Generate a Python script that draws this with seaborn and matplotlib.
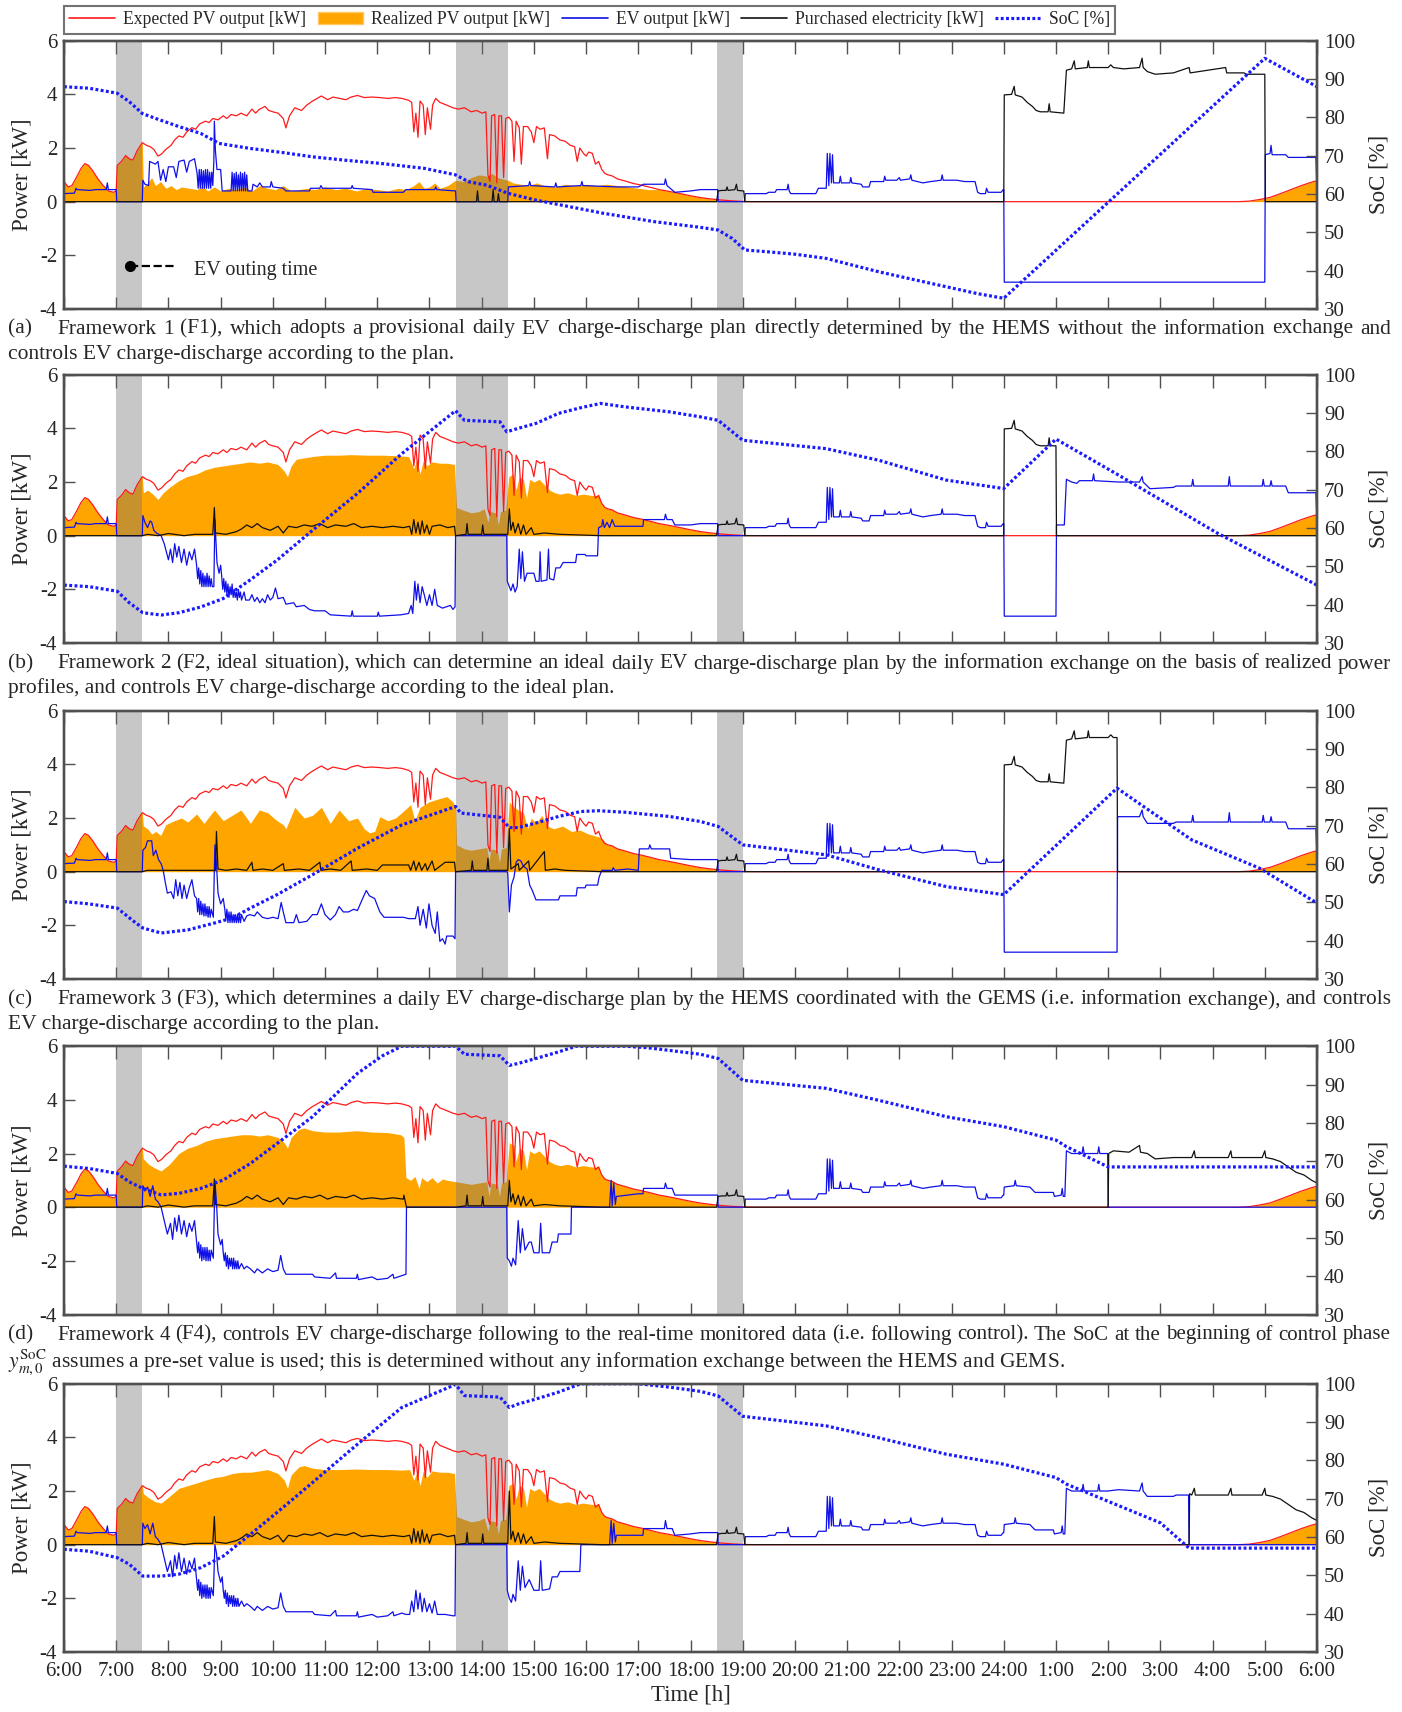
import matplotlib
matplotlib.use("Agg")
import matplotlib.pyplot as plt
from matplotlib.lines import Line2D
from matplotlib.patches import Patch
import seaborn as sns

sns.set_theme(style="ticks")
plt.rcParams["font.family"] = ["Liberation Serif", "DejaVu Serif"]
plt.rcParams["mathtext.fontset"] = "stix"

# ---------------- data (time in hours after 6:00) ----------------
hour_labels = ["6:00", "7:00", "8:00", "9:00", "10:00", "11:00", "12:00", "13:00", "14:00",
               "15:00", "16:00", "17:00", "18:00", "19:00", "20:00", "21:00", "22:00", "23:00",
               "24:00", "1:00", "2:00", "3:00", "4:00", "5:00", "6:00"]
outing_windows = [(1.0, 1.5), (7.5, 8.5), (12.5, 13.0)]

# PV: morning part (shared by expected and realized)
pv_morning = [(0.00, 0.75), (0.08, 0.55), (0.15, 0.6), (0.25, 0.95), (0.33, 1.25), (0.40, 1.42),
              (0.47, 1.35), (0.55, 1.15), (0.65, 0.85), (0.75, 0.6), (0.85, 0.4), (0.95, 0.35),
              (1.00, 0.4), (1.02, 1.35), (1.10, 1.5), (1.18, 1.72), (1.25, 1.6), (1.32, 1.55),
              (1.40, 1.9), (1.50, 2.2)]
# PV: evening / night part (shared)
pv_evening = [(11.4, 0.45), (11.6, 0.38), (11.8, 0.3), (12.0, 0.22), (12.2, 0.15), (12.4, 0.1),
              (12.6, 0.06), (12.8, 0.03), (13.0, 0.01), (13.2, 0.0), (22.5, 0.0), (22.7, 0.02),
              (22.9, 0.08), (23.1, 0.16), (23.3, 0.3), (23.5, 0.45), (23.7, 0.6), (23.9, 0.73),
              (24.0, 0.78)]
# Expected PV, daytime
pv_expected_day = [(1.58, 2.1), (1.65, 2.05), (1.72, 1.95), (1.80, 1.7), (1.87, 1.78), (1.95, 1.95),
                   (2.05, 2.1), (2.12, 2.3), (2.20, 2.45), (2.28, 2.4), (2.35, 2.6), (2.45, 2.76),
                   (2.52, 2.7), (2.60, 2.9), (2.71, 3.0), (2.78, 2.95), (2.85, 3.1), (2.95, 3.05),
                   (3.05, 3.2), (3.12, 3.1), (3.20, 3.25), (3.30, 3.2), (3.39, 3.3), (3.50, 3.2),
                   (3.60, 3.45), (3.67, 3.3), (3.74, 3.44), (3.85, 3.55), (3.92, 3.4), (4.00, 3.35),
                   (4.10, 3.3), (4.20, 3.1), (4.25, 2.75), (4.32, 3.2), (4.42, 3.5), (4.55, 3.4),
                   (4.65, 3.6), (4.76, 3.75), (4.85, 3.85), (4.93, 3.94), (5.05, 3.8), (5.15, 3.9),
                   (5.27, 3.85), (5.40, 3.8), (5.50, 3.9), (5.62, 3.96), (5.75, 3.88), (5.90, 3.9),
                   (6.05, 3.88), (6.20, 3.85), (6.35, 3.88), (6.47, 3.85), (6.60, 3.78),
                   (6.66, 3.7), (6.70, 2.6), (6.74, 3.3), (6.78, 2.4), (6.82, 3.75), (6.88, 3.6),
                   (6.92, 2.5), (6.96, 3.5), (7.02, 2.7), (7.06, 3.6), (7.12, 3.85), (7.20, 3.7),
                   (7.33, 3.6), (7.45, 3.5), (7.55, 3.45), (7.67, 3.5), (7.80, 3.35), (7.90, 3.4),
                   (8.01, 3.3), (8.08, 3.35), (8.12, 1.0), (8.16, 0.75), (8.19, 3.2), (8.25, 3.25),
                   (8.29, 0.7), (8.33, 3.2), (8.38, 3.2), (8.42, 0.9), (8.46, 3.1), (8.52, 3.15),
                   (8.58, 3.0), (8.62, 1.5), (8.66, 3.0), (8.72, 2.75), (8.76, 1.4), (8.80, 2.8),
                   (8.88, 2.8), (8.95, 2.6), (9.00, 2.2), (9.05, 2.8), (9.12, 2.7), (9.20, 2.75),
                   (9.26, 1.6), (9.30, 2.5), (9.40, 2.45), (9.50, 2.3), (9.60, 2.25), (9.70, 2.1),
                   (9.78, 2.05), (9.83, 1.5), (9.88, 2.0), (9.95, 1.8), (10.00, 1.7), (10.05, 1.85),
                   (10.12, 1.8), (10.18, 1.4), (10.24, 1.5), (10.30, 1.2), (10.36, 1.05),
                   (10.42, 1.0), (10.50, 0.96), (10.60, 0.85), (10.75, 0.77), (10.90, 0.68),
                   (11.05, 0.62), (11.20, 0.55)]

# Realized PV, daytime, per framework
pv_real_a = [(1.52, 0.55), (1.60, 0.7), (1.68, 0.9), (1.75, 0.6), (1.85, 0.75), (1.95, 0.5),
             (2.05, 0.6), (2.15, 0.45), (2.25, 0.55), (2.40, 0.5), (2.55, 0.45), (2.65, 0.6),
             (2.75, 0.4), (2.88, 0.55), (3.00, 0.4), (3.15, 0.5), (3.30, 0.45), (3.45, 0.55),
             (3.60, 0.4), (3.75, 0.6), (3.90, 0.5), (4.05, 0.45), (4.20, 0.6), (4.35, 0.4),
             (4.50, 0.45), (4.65, 0.5), (4.80, 0.45), (5.00, 0.55), (5.20, 0.45), (5.40, 0.5),
             (5.60, 0.4), (5.80, 0.5), (6.00, 0.45), (6.20, 0.4), (6.40, 0.5), (6.55, 0.45),
             (6.70, 0.6), (6.80, 0.75), (6.90, 0.5), (7.00, 0.55), (7.10, 0.7), (7.20, 0.5),
             (7.35, 0.6), (7.50, 0.8), (7.65, 0.75), (7.80, 0.9), (7.95, 1.0), (8.10, 0.95),
             (8.20, 1.05), (8.30, 0.9), (8.40, 0.85), (8.50, 0.8), (8.60, 0.7), (8.75, 0.65),
             (8.90, 0.6), (9.05, 0.7), (9.20, 0.6), (9.40, 0.55), (9.60, 0.65), (9.80, 0.6),
             (10.00, 0.65), (10.20, 0.6), (10.40, 0.65), (10.60, 0.6), (10.80, 0.55),
             (11.00, 0.5), (11.20, 0.45)]
pv_real_b = [(1.52, 1.6), (1.60, 1.7), (1.70, 1.55), (1.80, 1.35), (1.90, 1.6), (2.02, 1.8),
             (2.20, 2.05), (2.35, 2.2), (2.54, 2.3), (2.70, 2.45), (2.88, 2.55), (3.05, 2.6),
             (3.22, 2.65), (3.40, 2.7), (3.56, 2.75), (3.75, 2.7), (3.90, 2.75), (4.10, 2.65),
             (4.22, 2.4), (4.28, 2.2), (4.35, 2.6), (4.45, 2.85), (4.60, 2.9), (4.76, 2.95),
             (5.00, 3.0), (5.27, 3.0), (5.50, 3.02), (5.80, 3.0), (6.10, 3.0), (6.40, 2.98),
             (6.60, 2.95), (6.70, 2.5), (6.76, 2.85), (6.82, 2.3), (6.88, 2.8), (6.95, 2.6),
             (7.05, 2.75), (7.20, 2.7), (7.35, 2.7), (7.48, 2.65), (7.52, 1.05), (7.65, 0.95),
             (7.80, 0.85), (7.95, 0.9), (8.05, 1.0), (8.12, 0.5), (8.16, 0.9), (8.28, 0.85),
             (8.32, 0.4), (8.36, 0.9), (8.46, 0.95), (8.52, 2.2), (8.60, 2.3), (8.66, 1.7),
             (8.72, 2.2), (8.80, 2.1), (8.86, 1.4), (8.92, 2.1), (9.00, 2.0), (9.10, 2.1),
             (9.20, 1.9), (9.30, 1.7), (9.40, 1.6), (9.50, 1.55), (9.65, 1.6), (9.80, 1.5),
             (9.95, 1.55), (10.10, 1.5), (10.24, 1.5), (10.30, 1.2), (10.36, 1.05), (10.42, 1.0),
             (10.50, 0.96), (10.60, 0.85), (10.75, 0.77), (10.90, 0.68), (11.05, 0.62),
             (11.20, 0.55)]
pv_real_c = [(1.52, 1.7), (1.60, 1.6), (1.68, 1.4), (1.76, 1.5), (1.85, 1.35), (1.95, 1.75),
             (2.11, 1.9), (2.25, 2.0), (2.37, 1.85), (2.54, 2.15), (2.68, 1.8), (2.88, 2.3),
             (3.05, 1.9), (3.22, 2.1), (3.39, 2.3), (3.50, 2.0), (3.57, 1.8), (3.74, 2.3),
             (3.90, 2.2), (4.08, 1.9), (4.20, 1.75), (4.25, 1.6), (4.42, 2.4), (4.60, 2.0),
             (4.76, 2.1), (4.93, 2.4), (5.10, 1.8), (5.27, 2.3), (5.45, 1.9), (5.62, 2.0),
             (5.75, 1.6), (5.85, 1.45), (5.95, 1.5), (6.05, 2.05), (6.20, 1.9), (6.35, 2.0),
             (6.47, 2.2), (6.64, 2.5), (6.72, 1.9), (6.82, 2.4), (6.99, 2.6), (7.15, 2.7),
             (7.33, 2.8), (7.45, 2.6), (7.50, 2.4), (7.52, 1.0), (7.67, 0.85), (7.80, 0.8),
             (7.95, 0.85), (8.10, 0.9), (8.14, 0.4), (8.18, 0.85), (8.30, 0.8), (8.34, 0.35),
             (8.38, 0.85), (8.47, 0.9), (8.53, 2.6), (8.62, 2.4), (8.70, 2.3), (8.80, 2.2),
             (8.88, 1.6), (8.95, 2.0), (9.04, 1.8), (9.15, 2.1), (9.26, 1.7), (9.38, 1.6),
             (9.55, 1.7), (9.72, 1.5), (9.88, 1.55), (10.05, 1.4), (10.24, 1.3), (10.32, 1.2),
             (10.40, 1.0), (10.50, 0.96), (10.60, 0.85), (10.75, 0.77), (10.90, 0.68),
             (11.05, 0.62), (11.20, 0.55)]
pv_real_d = [(1.52, 1.8), (1.62, 1.6), (1.75, 1.45), (1.86, 1.35), (2.02, 1.6), (2.20, 2.0),
             (2.37, 2.2), (2.54, 2.3), (2.70, 2.45), (2.88, 2.55), (3.05, 2.6), (3.22, 2.65),
             (3.40, 2.7), (3.57, 2.7), (3.75, 2.65), (3.90, 2.7), (4.10, 2.6), (4.22, 2.4),
             (4.28, 2.2), (4.35, 2.6), (4.50, 2.9), (4.60, 2.95), (4.76, 2.85), (5.00, 2.8),
             (5.27, 2.8), (5.60, 2.85), (5.90, 2.8), (6.20, 2.78), (6.45, 2.7), (6.51, 2.6),
             (6.55, 1.1), (6.64, 1.0), (6.72, 1.15), (6.80, 0.7), (6.85, 1.1), (6.95, 0.95),
             (7.05, 1.1), (7.15, 0.9), (7.25, 1.05), (7.35, 1.0), (7.50, 0.95), (7.65, 0.9),
             (7.80, 0.85), (7.95, 0.9), (8.10, 0.95), (8.14, 0.4), (8.18, 0.9), (8.30, 0.85),
             (8.34, 0.4), (8.38, 0.9), (8.47, 0.95), (8.53, 2.4), (8.62, 2.3), (8.66, 1.7),
             (8.72, 2.2), (8.80, 2.1), (8.86, 1.4), (8.92, 2.1), (9.00, 2.0), (9.10, 2.1),
             (9.20, 1.9), (9.30, 1.7), (9.40, 1.6), (9.50, 1.55), (9.65, 1.6), (9.80, 1.5),
             (9.95, 1.55), (10.10, 1.5), (10.24, 1.5), (10.30, 1.2), (10.36, 1.05), (10.42, 1.0),
             (10.50, 0.96), (10.60, 0.85), (10.75, 0.77), (10.90, 0.68), (11.05, 0.62),
             (11.20, 0.55)]
pv_real_e = [(1.52, 1.9), (1.62, 1.75), (1.75, 1.6), (1.86, 1.55), (2.02, 1.8), (2.20, 2.1),
             (2.37, 2.2), (2.54, 2.3), (2.70, 2.4), (2.88, 2.5), (3.05, 2.55), (3.22, 2.65),
             (3.40, 2.7), (3.57, 2.7), (3.75, 2.75), (3.90, 2.8), (4.10, 2.65), (4.22, 2.4),
             (4.28, 2.1), (4.35, 2.6), (4.50, 2.9), (4.60, 2.95), (4.76, 2.85), (5.00, 2.8),
             (5.27, 2.8), (5.60, 2.82), (5.90, 2.8), (6.20, 2.8), (6.45, 2.78), (6.62, 2.8),
             (6.70, 2.4), (6.76, 2.7), (6.82, 2.2), (6.88, 2.75), (6.95, 2.5), (7.05, 2.75),
             (7.20, 2.7), (7.35, 2.7), (7.48, 2.65), (7.52, 1.05), (7.65, 0.95), (7.80, 0.85),
             (7.95, 0.9), (8.05, 1.0), (8.12, 0.5), (8.16, 0.9), (8.28, 0.85), (8.32, 0.4),
             (8.36, 0.9), (8.46, 0.95), (8.52, 2.2), (8.60, 2.3), (8.66, 1.7), (8.72, 2.2),
             (8.80, 2.1), (8.86, 1.4), (8.92, 2.1), (9.00, 2.0), (9.10, 2.1), (9.20, 1.9),
             (9.30, 1.7), (9.40, 1.6), (9.50, 1.55), (9.65, 1.6), (9.80, 1.5), (9.95, 1.55),
             (10.10, 1.5), (10.24, 1.5), (10.30, 1.2), (10.36, 1.05), (10.42, 1.0), (10.50, 0.96),
             (10.60, 0.85), (10.75, 0.77), (10.90, 0.68), (11.05, 0.62), (11.20, 0.55)]

# EV output: shared morning and afternoon parts
ev_morning = [(0.0, 0.3), (0.2, 0.32), (0.23, 0.5), (0.25, 0.45), (0.5, 0.42), (0.6, 0.45),
              (0.81, 0.45), (0.83, 0.7), (0.85, 0.45), (1.0, 0.45), (1.01, 0.0), (1.5, 0.0)]
ev_afternoon = [(12.19, 0.45), (12.52, 0.45), (12.53, 0.0), (13.04, 0.0), (13.05, 0.3),
                (13.45, 0.3), (13.5, 0.35), (13.62, 0.35), (13.65, 0.45), (13.85, 0.45),
                (13.87, 0.65), (13.89, 0.4), (13.92, 0.3), (14.4, 0.3), (14.45, 0.5), (14.6, 0.5),
                (14.62, 1.8), (14.65, 0.6), (14.67, 1.8), (14.7, 0.7), (14.72, 1.75), (14.74, 0.7),
                (14.85, 0.7), (14.87, 0.95), (14.89, 0.7), (15.05, 0.7), (15.07, 0.9),
                (15.09, 0.7), (15.27, 0.65), (15.3, 0.55), (15.42, 0.55), (15.45, 0.75),
                (15.7, 0.75), (15.72, 0.95), (15.74, 0.8), (15.95, 0.8), (16.0, 0.9), (16.02, 0.8),
                (16.2, 0.85), (16.22, 1.0), (16.24, 0.8), (16.45, 0.7), (16.6, 0.75), (16.8, 0.8),
                (16.82, 1.0), (16.84, 0.8), (17.1, 0.8), (17.25, 0.75), (17.45, 0.75),
                (17.5, 0.35), (17.55, 0.3), (17.65, 0.3), (17.67, 0.5), (17.7, 0.35),
                (17.95, 0.35), (17.99, 0.45)]
ev_day_a = [(1.51, 0.8), (1.55, 0.65), (1.62, 0.6), (1.64, 1.5), (1.75, 1.4), (1.8, 1.5),
            (1.85, 0.8), (1.9, 1.2), (1.95, 0.75), (2.0, 1.3), (2.1, 1.3), (2.15, 0.9), (2.2, 1.5),
            (2.3, 1.55), (2.35, 1.1), (2.4, 1.5), (2.5, 1.6), (2.55, 1.05), (2.57, 0.5),
            (2.59, 1.2), (2.61, 0.5), (2.63, 1.2), (2.65, 0.5), (2.67, 1.15), (2.69, 0.5),
            (2.71, 1.2), (2.73, 0.5), (2.75, 1.2), (2.77, 0.5), (2.79, 1.1), (2.81, 0.5),
            (2.83, 1.1), (2.85, 0.6), (2.87, 1.5), (2.88, 3.0), (2.9, 1.9), (2.93, 1.2),
            (3.0, 1.2), (3.03, 0.4), (3.2, 0.4), (3.22, 1.1), (3.24, 0.4), (3.26, 1.05),
            (3.28, 0.4), (3.3, 1.1), (3.32, 0.4), (3.34, 1.0), (3.36, 0.4), (3.38, 1.1),
            (3.4, 0.4), (3.42, 1.05), (3.44, 0.4), (3.46, 1.1), (3.48, 0.4), (3.5, 1.0),
            (3.52, 0.4), (3.6, 0.4), (3.62, 0.65), (3.7, 0.55), (3.75, 0.7), (3.8, 0.55),
            (3.95, 0.55), (3.97, 0.75), (4.0, 0.55), (4.2, 0.5), (4.25, 0.4), (4.7, 0.4),
            (4.72, 0.5), (4.9, 0.5), (4.92, 0.6), (4.95, 0.5), (5.5, 0.5), (5.52, 0.6),
            (5.54, 0.5), (5.9, 0.45), (5.92, 0.35), (6.5, 0.35), (6.55, 0.45), (7.1, 0.45),
            (7.12, 0.55), (7.14, 0.45), (7.5, 0.4), (7.51, 0.0), (8.5, 0.0), (8.51, 0.55),
            (8.9, 0.6), (8.92, 0.75), (8.94, 0.6), (9.4, 0.55), (9.42, 0.7), (9.44, 0.55),
            (9.9, 0.6), (9.92, 0.75), (9.94, 0.6), (10.6, 0.55), (11.0, 0.55), (11.1, 0.65),
            (11.5, 0.65), (11.52, 0.85), (11.55, 0.6), (11.7, 0.35), (12.0, 0.4)]
ev_day_b = [(1.51, 0.75), (1.55, 0.5), (1.6, 0.3), (1.65, 0.55), (1.68, 0.5), (1.72, 0.2),
            (1.77, 0.1), (1.86, 0.0), (1.92, -0.3), (1.96, -0.6), (2.0, -0.9), (2.04, -0.5),
            (2.08, -1.0), (2.12, -0.3), (2.16, -0.8), (2.2, -0.4), (2.25, -1.0), (2.3, -0.5),
            (2.35, -1.1), (2.4, -0.6), (2.45, -0.9), (2.5, -0.5), (2.54, -1.1), (2.56, -1.6),
            (2.58, -1.2), (2.6, -1.8), (2.62, -1.3), (2.64, -1.9), (2.66, -1.4), (2.68, -1.9),
            (2.7, -1.5), (2.72, -1.9), (2.74, -1.4), (2.76, -1.9), (2.78, -1.5), (2.8, -1.9),
            (2.82, -1.6), (2.84, -1.9), (2.87, -1.9), (2.89, 0.6), (2.91, -0.2),
            (2.93, -1.0), (2.97, -1.4), (3.0, -1.1), (3.02, -1.5), (3.04, -2.0), (3.06, -1.6),
            (3.08, -2.1), (3.1, -1.7), (3.12, -2.2), (3.14, -1.8), (3.16, -2.3), (3.18, -1.9),
            (3.2, -2.2), (3.22, -1.8), (3.24, -2.3), (3.26, -2.0), (3.28, -2.3), (3.3, -2.1),
            (3.32, -2.4), (3.34, -2.0), (3.36, -2.3), (3.38, -2.1), (3.4, -2.4), (3.45, -2.1),
            (3.48, -2.4), (3.55, -2.4), (3.6, -2.2), (3.65, -2.45), (3.7, -2.3), (3.75, -2.5),
            (3.8, -2.35), (3.85, -2.5), (3.9, -2.2), (3.95, -2.4), (4.0, -2.3), (4.05, -1.95),
            (4.1, -2.35), (4.2, -2.3), (4.25, -2.55), (4.4, -2.5), (4.45, -2.65), (4.6, -2.6),
            (4.7, -2.75), (4.8, -2.8), (5.0, -2.8), (5.1, -2.95), (5.5, -3.0), (5.52, -2.8),
            (5.54, -3.0), (6.0, -3.0), (6.02, -2.85), (6.04, -3.0), (6.45, -2.95),
            (6.6, -2.9), (6.65, -2.6), (6.68, -2.9), (6.72, -1.7), (6.75, -2.4), (6.78, -1.8),
            (6.82, -2.5), (6.86, -1.9), (6.9, -2.2), (6.95, -2.6), (7.0, -2.2), (7.05, -2.6),
            (7.1, -2.0), (7.15, -2.6), (7.25, -2.7), (7.4, -2.6), (7.45, -2.75), (7.49, -2.65),
            (7.5, 0.0), (8.48, 0.0), (8.49, -1.7), (8.53, -1.9), (8.56, -2.05), (8.6, -1.8),
            (8.64, -2.1), (8.68, -1.9), (8.72, -0.5), (8.75, -1.6), (8.78, -0.6), (8.82, -1.7),
            (8.87, -1.4), (9.0, -1.4), (9.04, -1.7), (9.1, -1.7), (9.12, -0.6), (9.14, -1.7),
            (9.25, -1.65), (9.28, -0.5), (9.3, -1.6), (9.38, -1.65), (9.42, -1.2), (9.5, -1.2),
            (9.56, -1.0), (9.8, -1.0), (9.82, -0.7), (9.98, -0.7), (10.0, -0.75),
            (10.22, -0.75), (10.24, 0.3), (10.3, 0.35), (10.32, 0.6), (10.35, 0.3), (10.4, 0.5),
            (10.45, 0.3), (10.5, 0.6), (10.55, 0.35), (11.09, 0.35), (11.1, 0.6), (11.5, 0.6),
            (11.52, 0.8), (11.55, 0.6), (11.65, 0.6), (11.7, 0.4), (12.0, 0.4)]
ev_day_c = [(1.51, 0.8), (1.56, 0.9), (1.6, 1.15), (1.68, 1.15), (1.71, 0.6), (1.76, 0.8),
            (1.81, 0.45), (1.86, 0.3), (1.9, 0.05), (1.94, -0.4), (1.98, -0.8), (2.05, -0.75),
            (2.1, -1.0), (2.14, -0.3), (2.18, -0.9), (2.22, -0.4), (2.26, -1.0), (2.3, -0.5),
            (2.35, -1.0), (2.4, -0.6), (2.45, -0.3), (2.5, -0.9), (2.54, -1.0), (2.56, -1.5),
            (2.58, -1.0), (2.6, -1.6), (2.62, -1.1), (2.64, -1.6), (2.66, -1.2), (2.68, -1.65),
            (2.7, -1.2), (2.72, -1.65), (2.74, -1.3), (2.76, -1.7), (2.78, -1.3), (2.8, -1.7),
            (2.82, -1.4), (2.86, -1.7), (2.89, 1.0), (2.92, 0.3), (2.95, -0.8),
            (3.0, -1.2), (3.05, -1.0), (3.08, -1.4), (3.1, -1.8), (3.12, -1.4), (3.14, -1.9),
            (3.16, -1.5), (3.18, -1.9), (3.2, -1.5), (3.22, -1.9), (3.24, -1.6), (3.26, -1.9),
            (3.28, -1.6), (3.3, -1.9), (3.32, -1.6), (3.34, -1.9), (3.36, -1.6), (3.38, -1.9),
            (3.4, -1.6), (3.45, -1.85), (3.5, -1.65), (3.56, -1.6), (3.65, -1.65), (3.7, -1.5),
            (3.8, -1.7), (3.9, -1.75), (4.0, -1.7), (4.1, -1.75), (4.16, -1.15), (4.2, -1.5),
            (4.25, -1.9), (4.4, -1.9), (4.45, -1.6), (4.5, -1.9), (4.65, -1.85), (4.76, -1.6),
            (4.85, -1.6), (4.93, -1.2), (5.0, -1.6), (5.1, -1.8), (5.2, -1.6), (5.27, -1.3),
            (5.35, -1.5), (5.45, -1.5), (5.55, -1.4), (5.62, -1.45), (5.72, -1.0),
            (5.79, -0.7), (5.85, -0.9), (5.95, -1.0), (6.05, -1.5), (6.13, -1.7), (6.5, -1.7),
            (6.6, -1.75), (6.73, -1.75), (6.78, -1.3), (6.82, -2.0), (6.88, -1.4),
            (6.94, -2.1), (6.99, -1.2), (7.05, -2.0), (7.11, -2.3), (7.15, -1.5), (7.2, -2.6),
            (7.25, -2.5), (7.3, -2.7), (7.33, -2.4), (7.45, -2.4), (7.49, -2.5), (7.5, 0.0),
            (8.48, 0.0), (8.5, -0.05), (8.53, -1.5), (8.57, -0.5), (8.62, -0.2), (8.66, 0.35),
            (8.7, 0.45), (8.75, 0.4), (8.8, 0.2), (8.87, 0.1), (8.92, -0.5), (8.97, -0.7),
            (9.04, -1.05), (9.47, -1.05), (9.5, -0.9), (9.81, -0.9), (9.83, -0.6),
            (9.98, -0.6), (10.0, -0.5), (10.22, -0.5), (10.25, -0.2), (10.3, 0.05),
            (10.5, 0.05), (10.52, 0.15), (10.55, 0.05), (10.8, 0.1), (11.0, 0.05),
            (11.02, 0.85), (11.2, 0.85), (11.22, 1.0), (11.25, 0.85), (11.6, 0.85),
            (11.62, 0.5), (12.0, 0.45)]
ev_charge_de = [(1.51, 0.8), (1.55, 0.6), (1.6, 0.75), (1.65, 0.4), (1.7, 0.8), (1.75, 0.3),
                (1.8, 0.2), (1.86, 0.0), (1.92, -0.5), (1.98, -1.0), (2.04, -0.6), (2.08, -1.2),
                (2.12, -0.4), (2.16, -0.9), (2.2, -0.3), (2.25, -1.0), (2.3, -0.5), (2.35, -1.1),
                (2.4, -0.6), (2.45, -0.9), (2.5, -0.5), (2.54, -1.3), (2.56, -1.7), (2.58, -1.3),
                (2.6, -1.9), (2.62, -1.4), (2.64, -2.0), (2.66, -1.5), (2.68, -1.95),
                (2.7, -1.5), (2.72, -2.0), (2.74, -1.5), (2.76, -2.0), (2.78, -1.6), (2.8, -2.0),
                (2.82, -1.6), (2.86, -1.9)]
ev_charge_de2 = [(2.95, -1.0), (3.0, -1.4), (3.03, -1.2), (3.05, -1.7), (3.07, -2.0),
                 (3.09, -1.7), (3.11, -2.2), (3.13, -1.8), (3.15, -2.3), (3.17, -1.9), (3.19, -2.2),
                 (3.21, -1.9), (3.23, -2.3), (3.25, -1.9), (3.27, -2.3), (3.29, -2.0), (3.31, -2.3),
                 (3.33, -2.0), (3.35, -2.3), (3.4, -2.1), (3.45, -2.3), (3.5, -2.2), (3.57, -2.3),
                 (3.65, -2.45), (3.7, -2.3), (3.8, -2.45), (3.9, -2.3), (4.0, -2.4),
                 (4.1, -2.35), (4.15, -1.8), (4.2, -2.3), (4.25, -2.5), (4.76, -2.5),
                 (4.8, -2.6), (5.1, -2.65), (5.2, -2.45), (5.22, -2.65), (5.6, -2.65),
                 (5.62, -2.5), (5.64, -2.7), (5.9, -2.6), (6.0, -2.7), (6.2, -2.65), (6.3, -2.5),
                 (6.32, -2.65), (6.47, -2.55)]
ev_day_d = [(2.89, 1.0), (2.92, 0.2)]
ev_day_d2 = [(6.55, -2.5), (6.56, 0.0), (8.48, 0.0), (8.49, -1.9), (8.53, -2.0), (8.57, -2.2),
             (8.6, -1.9), (8.65, -2.15), (8.7, -0.5), (8.74, -1.7), (8.78, -0.8), (8.83, -1.6),
             (8.91, -1.3), (8.95, -1.3), (9.0, -1.7), (9.1, -1.7), (9.13, -0.6), (9.16, -1.7),
             (9.3, -1.7), (9.35, -1.3), (9.45, -1.3), (9.47, -1.0), (9.71, -1.0), (9.72, 0.0),
             (10.45, 0.0), (10.48, 1.0), (10.5, 0.05), (10.53, 0.9), (10.56, 0.1), (10.58, 0.4),
             (11.0, 0.5), (11.09, 0.5), (11.1, 0.7), (11.5, 0.7), (11.52, 0.9), (11.55, 0.7),
             (11.65, 0.7), (11.7, 0.45), (12.0, 0.45)]
ev_day_e = [(2.89, 0.0), (2.92, -0.3)]
ev_day_e2 = [(6.55, -2.6), (6.62, -2.6), (6.66, -2.1), (6.7, -2.5), (6.74, -1.7), (6.78, -2.4),
             (6.82, -1.8), (6.86, -2.5), (6.9, -2.0), (6.95, -2.5), (7.0, -2.2), (7.05, -2.55),
             (7.1, -2.1), (7.15, -2.6), (7.3, -2.6), (7.45, -2.65), (7.49, -2.65), (7.5, 0.0),
             (8.48, 0.0), (8.49, -1.7), (8.53, -2.0), (8.57, -2.15), (8.6, -1.85), (8.65, -2.1),
             (8.7, -0.6), (8.74, -1.7), (8.78, -0.8), (8.83, -1.6), (8.91, -1.3), (9.0, -1.7),
             (9.1, -1.7), (9.13, -0.6), (9.16, -1.7), (9.3, -1.65), (9.35, -1.2), (9.45, -1.2),
             (9.5, -1.0), (9.88, -1.0), (9.89, -0.6), (9.9, 0.0), (10.45, 0.0), (10.48, 0.9),
             (10.5, 0.05), (10.53, 0.8), (10.56, 0.1), (10.58, 0.35), (11.09, 0.35),
             (11.1, 0.6), (11.5, 0.6), (11.52, 0.9), (11.55, 0.6), (11.65, 0.6), (11.7, 0.35),
             (12.0, 0.4)]
ev_night_a = [(18.0, 0.45), (18.01, -3.0), (23.0, -3.0), (23.01, 1.75), (23.1, 1.8),
              (23.12, 2.1), (23.14, 1.75), (23.4, 1.75), (23.45, 1.65), (23.98, 1.65),
              (24.0, 0.35)]
ev_night_tail = [(21.3, 1.85), (21.6, 1.85), (21.62, 2.1), (21.64, 1.85), (22.3, 1.85),
                 (22.32, 2.2), (22.34, 1.85), (22.95, 1.85), (22.97, 2.1), (22.99, 1.85),
                 (23.1, 1.85), (23.12, 2.05), (23.14, 1.85), (23.4, 1.85), (23.45, 1.6),
                 (23.98, 1.6), (24.0, 0.35)]
ev_night_b = [(18.0, 0.45), (18.01, -3.0), (19.0, -3.0), (19.01, 0.4), (19.16, 0.4),
              (19.2, 2.1), (19.3, 2.0), (19.4, 1.95), (19.45, 2.05), (19.7, 2.05), (19.72, 2.3),
              (19.74, 2.05), (20.2, 2.0), (20.6, 2.0), (20.65, 2.2), (20.67, 2.0), (20.75, 1.85),
              (20.8, 1.75), (21.25, 1.8)]
ev_night_c = [(18.0, 0.45), (18.01, -3.0), (20.17, -3.0), (20.18, 2.05), (20.6, 2.05),
              (20.65, 2.3), (20.67, 2.05), (20.75, 1.8), (21.25, 1.8)]
ev_evening_de = [(18.0, 0.45), (18.01, 0.75), (18.2, 0.8), (18.22, 1.0), (18.24, 0.8),
                 (18.5, 0.75), (18.6, 0.55), (18.95, 0.55), (18.97, 0.4), (19.1, 0.45),
                 (19.12, 0.7), (19.14, 0.4), (19.17, 0.4), (19.2, 2.1), (19.3, 2.0), (19.5, 2.0),
                 (19.52, 2.25), (19.54, 2.0), (19.8, 2.0), (19.82, 2.25), (19.84, 2.0),
                 (19.99, 2.0)]
ev_night_d = [(20.0, 0.0), (24.0, 0.0)]
ev_night_e = [(20.2, 2.05), (20.6, 2.0), (20.65, 2.3), (20.67, 2.0), (20.75, 1.8), (21.25, 1.8),
              (21.3, 1.85), (21.54, 1.85), (21.55, 0.0), (24.0, 0.0)]

# Purchased electricity
buy_band3 = [(12.5, 0.0), (12.53, 0.4), (12.6, 0.42), (12.68, 0.42), (12.7, 0.55), (12.72, 0.42),
             (12.85, 0.45), (12.88, 0.65), (12.9, 0.42), (13.02, 0.4), (13.04, 0.0)]
buy_day_a = [(0.0, 0.0), (7.9, 0.0), (7.92, 0.4), (7.94, 0.0), (8.2, 0.0), (8.22, 0.45),
             (8.24, 0.0), (8.3, 0.0), (8.32, 0.3), (8.34, 0.0)]
buy_day_b = [(0.0, 0.0), (1.5, 0.0), (1.6, 0.05), (1.8, 0.0), (2.0, 0.08), (2.3, 0.0),
             (2.5, 0.05), (2.85, 0.05), (2.88, 1.05), (2.9, 0.1), (3.1, 0.05), (3.3, 0.15),
             (3.4, 0.25), (3.5, 0.4), (3.6, 0.3), (3.7, 0.45), (3.8, 0.3), (3.95, 0.2),
             (4.1, 0.35), (4.2, 0.1), (4.3, 0.35), (4.45, 0.3), (4.6, 0.4), (4.75, 0.35),
             (4.9, 0.45), (5.05, 0.3), (5.2, 0.4), (5.4, 0.35), (5.55, 0.45), (5.7, 0.3),
             (5.9, 0.35), (6.1, 0.3), (6.3, 0.35), (6.5, 0.3)]
buy_day_b2 = [(6.62, 0.35), (6.66, 0.05), (6.7, 0.6), (6.74, 0.1), (6.78, 0.5), (6.82, 0.05),
              (6.86, 0.55), (6.9, 0.1), (6.95, 0.4), (7.0, 0.05), (7.05, 0.35), (7.2, 0.4),
              (7.35, 0.3), (7.48, 0.35), (7.5, 0.0)]
buy_after_band2 = [(7.7, 0.05), (7.72, 0.45), (7.74, 0.05), (8.0, 0.05), (8.02, 0.4),
                   (8.04, 0.05), (8.5, 0.05), (8.53, 1.0), (8.56, 0.2), (8.6, 0.5), (8.64, 0.1),
                   (8.7, 0.45), (8.75, 0.05), (8.8, 0.4), (8.85, 0.05), (8.95, 0.3), (9.0, 0.05),
                   (9.2, 0.1), (9.5, 0.05), (10.3, 0.0)]
buy_day_c = [(0.0, 0.0), (1.5, 0.0), (1.6, 0.05), (2.0, 0.05), (2.5, 0.05), (2.9, 0.05),
             (2.92, 1.5), (2.95, 0.1), (3.1, 0.05), (3.3, 0.1), (3.5, 0.05), (3.6, 0.35),
             (3.62, 0.05), (3.8, 0.1), (4.0, 0.05), (4.2, 0.3), (4.22, 0.05), (4.5, 0.1),
             (4.7, 0.05), (4.9, 0.35), (4.92, 0.05), (5.1, 0.1), (5.3, 0.05), (5.5, 0.4),
             (5.52, 0.05), (5.8, 0.1), (6.0, 0.05), (6.1, 0.25), (6.6, 0.25), (6.64, 0.05),
             (6.7, 0.4), (6.74, 0.05), (6.8, 0.35), (6.85, 0.05), (6.92, 0.3), (6.96, 0.05),
             (7.05, 0.4), (7.1, 0.05), (7.3, 0.35), (7.48, 0.35), (7.5, 0.0), (7.8, 0.05),
             (7.82, 0.4), (7.84, 0.05), (8.1, 0.05), (8.12, 0.5), (8.14, 0.05), (8.5, 0.05),
             (8.53, 1.6), (8.56, 0.1), (8.7, 0.3), (8.72, 0.05), (8.9, 0.4), (8.92, 0.05),
             (9.2, 0.75), (9.22, 0.05), (9.4, 0.1), (9.6, 0.05), (10.3, 0.0)]
buy_day_d = [(6.51, 0.45), (6.56, 0.0), (7.5, 0.0)]
buy_spike_e = [(8.5, 0.05), (8.53, 2.0), (8.56, 0.2)]
buy_charge_start = [(18.0, 0.0), (18.01, 3.98), (18.15, 4.0), (18.2, 4.3), (18.22, 3.98),
                    (18.35, 3.9), (18.45, 3.7), (18.55, 3.55), (18.62, 3.4), (18.7, 3.35),
                    (18.85, 3.35), (18.87, 3.65), (18.89, 3.35)]
buy_charge_high = [(19.15, 3.3), (19.2, 4.9), (19.3, 4.95), (19.35, 5.25), (19.37, 4.95),
                   (19.6, 5.0), (19.62, 5.25), (19.64, 5.0), (20.0, 5.0), (20.05, 5.1),
                   (20.1, 5.0)]
buy_night_a = [(20.3, 4.95), (20.6, 5.0), (20.65, 5.35), (20.67, 5.0), (20.75, 4.85),
               (20.9, 4.75), (21.25, 4.8), (21.55, 5.0), (21.57, 4.8), (22.25, 5.0),
               (22.27, 4.8), (22.6, 4.8), (22.65, 4.75), (23.0, 4.75), (23.01, 0.0), (24.0, 0.0)]
buy_night_b = [(19.0, 3.35), (19.01, 0.0), (24.0, 0.0)]
buy_night_c = [(20.17, 5.0), (20.18, 0.0), (24.0, 0.0)]
buy_night_tail = [(21.6, 1.85), (21.65, 2.1), (21.67, 1.85), (22.3, 1.85), (22.35, 2.1),
                  (22.37, 1.85), (22.95, 1.85), (23.0, 2.1), (23.02, 1.85), (23.15, 1.8),
                  (23.3, 1.7), (23.45, 1.5), (23.6, 1.3), (23.75, 1.2), (23.9, 1.0), (24.0, 0.9)]
buy_night_d = [(20.0, 0.0), (20.01, 2.0), (20.1, 2.1), (20.4, 2.05), (20.6, 2.3), (20.62, 2.05),
               (20.75, 2.0), (20.9, 1.8), (21.25, 1.85)]
buy_night_e = [(21.55, 0.0), (21.56, 1.9)]

# State of charge [%]
soc_a = [(0, 88.0), (0.48, 87.6), (1.02, 86.3), (1.25, 84.1), (1.5, 81.0), (1.8, 79.5),
         (2.2, 77.6), (2.62, 75.8), (2.97, 73.2), (3.56, 71.9), (4.2, 70.8), (4.76, 69.7),
         (5.4, 68.8), (6.05, 68.0), (6.9, 66.7), (7.5, 65.0), (7.75, 63.2), (8.1, 62.3),
         (8.5, 60.2), (9.04, 58.4), (10.32, 55.0), (11.3, 52.8), (12.19, 51.3), (12.53, 50.6),
         (12.8, 48.4), (13.04, 45.4), (13.5, 44.9), (14.0, 44.3), (14.6, 43.2), (15.0, 41.8),
         (15.61, 39.7), (16.3, 37.6), (16.9, 35.8), (17.5, 34.0), (18.0, 32.8), (23.0, 95.4),
         (24.0, 88.0)]
soc_b = [(0, 45.1), (0.48, 44.7), (1.02, 43.5), (1.25, 40.5), (1.51, 37.9), (1.86, 37.3),
         (2.2, 37.9), (2.62, 39.4), (3.05, 41.6), (3.56, 46.4), (4.08, 51.6), (4.76, 59.4),
         (5.62, 69.0), (6.47, 79.4), (7.5, 90.6), (7.67, 88.1), (8.35, 87.7), (8.48, 85.1),
         (8.7, 86.0), (9.04, 87.3), (9.47, 89.9), (9.9, 91.4), (10.28, 92.5), (10.75, 91.6),
         (11.6, 90.3), (12.19, 89.0), (12.53, 88.1), (13.0, 82.9), (14.6, 80.7), (15.6, 77.7),
         (16.9, 72.5), (18.0, 70.3), (19.0, 83.2), (20.2, 73.8), (22.1, 58.6), (24.0, 45.1)]
soc_c = [(0, 50.2), (0.48, 49.6), (1.02, 48.5), (1.34, 45.0), (1.51, 43.3), (1.86, 42.0),
         (2.37, 42.8), (2.88, 44.6), (3.22, 45.9), (3.57, 48.5), (4.08, 52.0), (4.76, 57.2),
         (5.62, 64.1), (6.47, 70.2), (7.5, 75.0), (7.6, 73.3), (8.35, 72.2), (8.53, 69.5),
         (8.7, 69.5), (9.04, 70.7), (9.47, 72.4), (9.9, 73.7), (10.24, 73.9), (10.75, 73.5),
         (11.6, 72.4), (12.19, 71.1), (12.53, 69.8), (13.0, 65.0), (14.6, 62.4), (15.6, 58.5),
         (16.9, 54.1), (18.0, 52.0), (20.17, 79.8), (21.6, 66.3), (22.9, 58.9), (24.0, 49.8)]
soc_d = [(0, 68.7), (0.48, 68.1), (1.02, 66.8), (1.25, 64.6), (1.51, 62.9), (1.86, 61.2),
         (2.2, 61.6), (2.62, 62.9), (3.05, 65.1), (3.57, 69.4), (4.08, 74.6), (4.76, 81.6),
         (5.62, 92.9), (6.1, 97.5), (6.47, 100.0), (7.5, 100.0), (7.67, 97.9), (8.35, 97.5),
         (8.53, 95.0), (8.7, 95.5), (9.04, 96.8), (9.47, 98.5), (9.81, 100.0), (10.75, 100.0),
         (11.18, 99.6), (12.19, 97.9), (12.53, 96.8), (13.0, 91.1), (14.6, 89.0), (15.6, 85.9),
         (16.9, 81.6), (18.0, 79.0), (19.0, 75.5), (19.2, 73.8), (20.0, 68.5), (24.0, 68.5)]
soc_e = [(0, 56.8), (0.48, 56.3), (1.02, 54.6), (1.25, 52.9), (1.51, 49.8), (1.86, 49.8),
         (2.2, 50.3), (2.62, 52.0), (3.05, 55.0), (3.57, 60.7), (4.08, 66.4), (4.76, 74.2),
         (5.62, 84.2), (6.47, 93.8), (7.5, 99.8), (7.67, 96.9), (8.35, 96.5), (8.53, 93.8),
         (8.7, 94.7), (9.04, 96.0), (9.47, 97.8), (9.9, 100.0), (11.0, 100.0), (11.6, 99.1),
         (12.19, 98.0), (12.53, 96.8), (13.0, 91.5), (14.6, 89.0), (15.6, 85.9), (16.9, 81.6),
         (18.0, 79.0), (19.0, 75.5), (19.2, 73.8), (21.0, 63.7), (21.55, 57.1), (24.0, 57.1)]

captions = [
    ["(a)", "Framework 1 (F1), which adopts a provisional daily EV charge-discharge plan directly determined by the HEMS without the information exchange and",
     "controls EV charge-discharge according to the plan."],
    ["(b)", "Framework 2 (F2, ideal situation), which can determine an ideal daily EV charge-discharge plan by the information exchange on the basis of realized power",
     "profiles, and controls EV charge-discharge according to the ideal plan."],
    ["(c)", "Framework 3 (F3), which determines a daily EV charge-discharge plan by the HEMS coordinated with the GEMS (i.e. information exchange), and controls",
     "EV charge-discharge according to the plan."],
    ["(d)", "Framework 4 (F4), controls EV charge-discharge following to the real-time monitored data (i.e. following control). The SoC at the beginning of control phase",
     r"$y_{m,0}^{\mathrm{SoC}}$ assumes a pre-set value is used; this is determined without any information exchange between the HEMS and GEMS."],
]

# ---------------- assemble per-panel series ----------------
panels = [
    dict(pv=pv_morning + pv_real_a + pv_evening,
         ev=ev_morning + ev_day_a + ev_afternoon + ev_night_a,
         buy=buy_day_a + buy_band3 + buy_charge_start + buy_charge_high + buy_night_a,
         soc=soc_a),
    dict(pv=pv_morning + pv_real_b + pv_evening,
         ev=ev_morning + ev_day_b + ev_afternoon + ev_night_b + ev_night_tail,
         buy=buy_day_b + buy_day_b2 + buy_after_band2 + buy_band3 + buy_charge_start + buy_night_b,
         soc=soc_b),
    dict(pv=pv_morning + pv_real_c + pv_evening,
         ev=ev_morning + ev_day_c + ev_afternoon + ev_night_c + ev_night_tail,
         buy=buy_day_c + buy_band3 + buy_charge_start + buy_charge_high + buy_night_c,
         soc=soc_c),
    dict(pv=pv_morning + pv_real_d + pv_evening,
         ev=ev_morning + ev_charge_de + ev_day_d + ev_charge_de2 + ev_day_d2 + ev_afternoon
         + ev_evening_de + ev_night_d,
         buy=buy_day_b + buy_day_d + buy_after_band2 + buy_band3 + buy_night_d + buy_night_tail,
         soc=soc_d),
    dict(pv=pv_morning + pv_real_e + pv_evening,
         ev=ev_morning + ev_charge_de + ev_day_e + ev_charge_de2 + ev_day_e2 + ev_afternoon
         + ev_evening_de + ev_night_e,
         buy=buy_day_b + buy_day_b2 + buy_after_band2[:6] + buy_spike_e + buy_after_band2[9:]
         + buy_band3 + buy_night_e + buy_night_tail,
         soc=soc_e),
]
pv_expected = pv_morning + pv_expected_day + pv_evening


def unzip(pairs):
    return [p[0] for p in pairs], [p[1] for p in pairs]


# ---------------- figure ----------------
W, H = 1402, 1712
fig = plt.figure(figsize=(W / 100, H / 100), dpi=100)
fig.patch.set_facecolor("white")

ax_left = 64 / W
ax_w = 1253 / W
ax_h = 268.3 / H
panel_bottoms = [309, 643, 979, 1314.5, 1652]
spine_c = "#505050"
c_red, c_orange, c_blue, c_black = "#ff1a1a", "#ffa500", "#1010e8", "#111111"
c_soc = "#1a1aff"
tick_fs = 15
label_fs = 16.5

axes = []
for i, (pb, pdata) in enumerate(zip(panel_bottoms, panels)):
    ax = fig.add_axes([ax_left, 1 - pb / H, ax_w, ax_h])
    ax.set_facecolor("white")
    axes.append(ax)
    tp, vp = unzip(pdata["pv"])
    ax.fill_between(tp, 0, vp, color=c_orange, lw=0, zorder=1)
    for a0, a1 in outing_windows:
        ax.axvspan(a0, a1, color=(0.45, 0.45, 0.45), alpha=0.4, lw=0, zorder=1.5)
    te, ve = unzip(pv_expected)
    sns.lineplot(x=te, y=ve, ax=ax, color=c_red, linewidth=0.9, estimator=None, sort=False,
                 zorder=2)
    tv, vv = unzip(pdata["ev"])
    sns.lineplot(x=tv, y=vv, ax=ax, color=c_blue, linewidth=0.9, estimator=None, sort=False,
                 zorder=3)
    tb, vb = unzip(pdata["buy"])
    sns.lineplot(x=tb, y=vb, ax=ax, color=c_black, linewidth=0.9, estimator=None, sort=False,
                 zorder=4)
    ax.set_xlim(0, 24)
    ax.set_ylim(-4, 6)
    ax.set_yticks([-4, -2, 0, 2, 4, 6])
    ax.set_yticklabels(["-4", "-2", "0", "2", "4", "6"])
    ax.set_xticks(range(25))
    ax.tick_params(axis="x", direction="in", length=9, width=1.0, color=spine_c, top=True,
                   bottom=True, labelsize=tick_fs, pad=7)
    ax.tick_params(axis="y", direction="in", length=8, width=1.0, color=spine_c, left=True,
                   right=False, labelsize=tick_fs, pad=5)
    if i == 4:
        ax.set_xticklabels(hour_labels)
        ax.set_xlabel("Time [h]", fontsize=label_fs, labelpad=3)
    else:
        ax.set_xticklabels([])
        ax.set_xlabel("")
    ax.set_ylabel("Power [kW]", fontsize=label_fs)
    ax.yaxis.set_label_coords(-0.025, 0.5)
    for s in ax.spines.values():
        s.set_color(spine_c)
        s.set_linewidth(1.7)

    ax2 = ax.twinx()
    ts, vs = unzip(pdata["soc"])
    sns.lineplot(x=ts, y=vs, ax=ax2, color=c_soc, linewidth=2.3, linestyle=(0, (0.9, 0.75)),
                 estimator=None, sort=False)
    ax2.set_ylim(30, 100)
    ax2.set_yticks(range(30, 101, 10))
    ax2.tick_params(axis="y", direction="in", length=8, width=1.0, color=spine_c,
                    labelsize=tick_fs, pad=5)
    ax2.set_ylabel("SoC [%]", fontsize=label_fs, rotation=90)
    ax2.yaxis.set_label_coords(1.041, 0.5)
    for s in ax2.spines.values():
        s.set_color(spine_c)
        s.set_linewidth(1.7)
    ax2.set_xlim(0, 24)

# EV outing time annotation (panel a)
ax0 = axes[0]
ax0.plot([1.27, 2.13], [-2.4, -2.4], color="black", linestyle="--", linewidth=1.6, zorder=6)
ax0.plot([1.27], [-2.4], marker="o", color="black", markersize=7, zorder=7)
ax0.text(2.49, -2.55, "EV outing time", fontsize=14.5, va="center", ha="left", zorder=7)

# legend
handles = [Line2D([], [], color=c_red, lw=1.2),
           Patch(facecolor=c_orange, edgecolor="#ffc860", lw=1.0),
           Line2D([], [], color=c_blue, lw=1.2),
           Line2D([], [], color=c_black, lw=1.2),
           Line2D([], [], color=c_soc, lw=2.3, linestyle=(0, (0.9, 0.75)))]
labels = ["Expected PV output [kW]", "Realized PV output [kW]", "EV output [kW]",
          "Purchased electricity [kW]", "SoC [%]"]
leg = fig.legend(handles, labels, loc="upper left", bbox_to_anchor=(64 / W, 1 - 6 / H),
                 ncol=5, frameon=True, fancybox=False, fontsize=12.7, handlelength=2.6,
                 handletextpad=0.45, columnspacing=0.65, borderpad=0.3, borderaxespad=0)
leg.get_frame().set_edgecolor(spine_c)
leg.get_frame().set_linewidth(1.5)

# captions
caption_y = [(329, 354), (664, 688), (1000, 1025), (1335, 1362)]
fig.canvas.draw()
renderer = fig.canvas.get_renderer()
cap_fs = 15.5


def text_width(s, fs):
    t = fig.text(0, 0, s, fontsize=fs)
    w = t.get_window_extent(renderer).width
    t.remove()
    return w


for (tag, line1, line2), (y1, y2) in zip(captions, caption_y):
    fig.text(8 / W, 1 - y1 / H, tag, fontsize=cap_fs, va="center", ha="left")
    x0, x1 = 57, 1391
    fs = cap_fs
    natural = text_width(line1, fs)
    if natural > (x1 - x0):
        fs = fs * (x1 - x0) / natural * 0.995
    words = line1.split(" ")
    widths = [text_width(w, fs) for w in words]
    gap = (x1 - x0 - sum(widths)) / (len(words) - 1)
    x = x0
    for w, wd in zip(words, widths):
        fig.text(x / W, 1 - y1 / H, w, fontsize=fs, va="center", ha="left")
        x += wd + gap
    fig.text(8 / W, 1 - y2 / H, line2, fontsize=cap_fs, va="center", ha="left")

fig.savefig("out.png", dpi=100, facecolor="white")
